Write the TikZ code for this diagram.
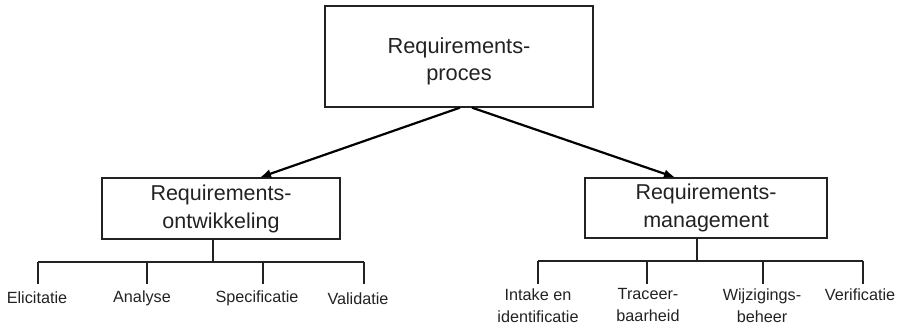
\documentclass[tikz,border=0pt]{standalone}
\usepackage{fontspec}
\setmainfont{Liberation Sans}
\usetikzlibrary{arrows.meta}
\definecolor{ink}{HTML}{222222}
\begin{document}
\begin{tikzpicture}[x=1pt,y=-1pt,
  box/.style={draw=ink,line width=1.3pt,rectangle,align=center,text=ink,inner sep=0pt},
  bigtext/.style={font=\fontsize{21.8}{27.5}\selectfont},
  midtext/.style={font=\fontsize{21.5}{28}\selectfont},
  leaf/.style={align=center,text=ink,inner sep=0pt,font=\fontsize{16.2}{22}\selectfont},
  tree/.style={draw=ink,line width=1.2pt},
  arr/.style={draw=black,line width=2.2pt,-{Latex[length=11pt,width=9pt]}}]
\useasboundingbox (0,0) rectangle (903,327);
% main boxes
\node[box,minimum width=268pt,minimum height=101pt,
  label={[name=toptext,bigtext,text=ink,align=center,inner sep=0pt,yshift=-5pt]center:{Requirements-\\proces}}] (top) at (459,56.5) {};
\node[box,midtext,minimum width=238pt,minimum height=61pt] (left) at (221,208.5) {Requirements-\\ontwikkeling};
\node[box,midtext,minimum width=242pt,minimum height=60pt] (right) at (706,208) {Requirements-\\management};
% arrows
\draw[arr] ([xshift=1pt]top.south) -- ([xshift=39pt]left.north);
\draw[arr] ([xshift=13pt]top.south) -- ([xshift=-31pt]right.north);
% left tree
\coordinate (lj) at (213,262);
\coordinate (lb1) at (38,262);
\coordinate (lb2) at (147,262);
\coordinate (lb3) at (263,262);
\coordinate (lb4) at (364,262);
\coordinate (lt1) at (38,284);
\coordinate (lt2) at (147,284);
\coordinate (lt3) at (263,284);
\coordinate (lt4) at (364,284);
\draw[tree] ([xshift=-8pt]left.south) -- (lj);
\draw[tree] (lb1) -- (lb4);
\draw[tree] (lb1) -- (lt1);
\draw[tree] (lb2) -- (lt2);
\draw[tree] (lb3) -- (lt3);
\draw[tree] (lb4) -- (lt4);
\node[leaf] (l1) at (37,298) {Elicitatie};
\node[leaf] (l2) at (142,298.5) {Analyse};
\node[leaf] (l3) at (257,298.5) {Specificatie};
\node[leaf] (l4) at (358,298.5) {Validatie};
% right tree
\coordinate (rj) at (697,261);
\coordinate (rb1) at (538,261);
\coordinate (rb2) at (647,261);
\coordinate (rb3) at (763,261);
\coordinate (rb4) at (863,261);
\coordinate (rt1) at (538,284);
\coordinate (rt2) at (647,284);
\coordinate (rt3) at (763,284);
\coordinate (rt4) at (863,284);
\draw[tree] ([xshift=-9pt]right.south) -- (rj);
\draw[tree] (rb1) -- (rb4);
\draw[tree] (rb1) -- (rt1);
\draw[tree] (rb2) -- (rt2);
\draw[tree] (rb3) -- (rt3);
\draw[tree] (rb4) -- (rt4);
\node[leaf] (r1) at (538,305.5) {Intake en\\identificatie};
\node[leaf] (r2) at (648,305.5) {Traceer-\\baarheid};
\node[leaf] (r3) at (762,305.5) {Wijzigings-\\beheer};
\node[leaf] (r4) at (860,295) {Verificatie};
\end{tikzpicture}
\end{document}
